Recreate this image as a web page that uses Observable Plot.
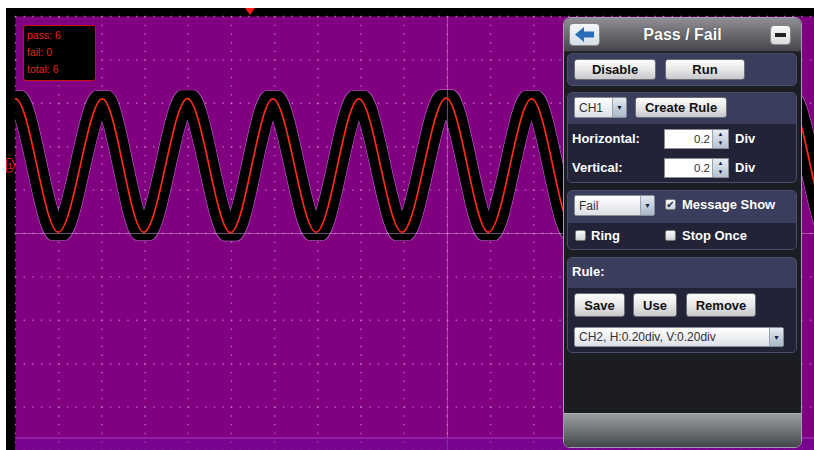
<!DOCTYPE html>
<html><head><meta charset="utf-8">
<script src="https://cdn.jsdelivr.net/npm/d3@7"></script>
<script src="https://cdn.jsdelivr.net/npm/@observablehq/plot@0.6"></script>
<style>
body{margin:0;background:#fff;}
#wrap{position:relative;width:814px;height:450px;overflow:hidden;background:#fff;font-family:"Liberation Sans",Arial,sans-serif;}
#frame{position:absolute;left:6px;top:8px;width:808px;height:442px;background:#000;}
#chart{position:absolute;left:0;top:0;}
.a{position:absolute;box-sizing:border-box;}
#info{left:23px;top:25px;width:73px;height:56px;background:#000;border:1px solid #c81414;border-radius:3px;color:#e82020;font-size:10.5px;line-height:17px;padding:1px 0 0 3px;}
#panel{left:563px;top:17px;width:239px;height:431px;background:#1c1d22;border:1px solid #a898b8;border-radius:7px;overflow:hidden;}
#head{left:0;top:0;width:237px;height:34px;background:linear-gradient(#909096,#6c6c72 45%,#46464c);border-bottom:1px solid #2a2a30;color:#fff;font-weight:bold;font-size:16px;line-height:34px;text-align:center;text-shadow:0 0 1px #222;}
.grp{background:#222336;border:1px solid #4a4d6c;border-radius:5px;overflow:hidden;}
.strip{position:absolute;left:0;top:0;width:100%;background:#3a3d5c;}
.btn{background:linear-gradient(#fdfdfd,#e8e8e8 50%,#c8c8cc);border:1px solid #6c6c76;border-radius:3px;font-weight:bold;font-size:13px;color:#111;display:flex;align-items:center;justify-content:center;}
.dd{background:linear-gradient(#ffffff,#dde0e6);border:1px solid #8a8a94;border-radius:2px;font-size:12px;color:#333;padding-left:4px;display:flex;align-items:center;}
.arr{position:absolute;right:0;top:0;bottom:0;width:13px;background:linear-gradient(#e4eaf2,#a9b8c8);border-left:1px solid #9aa4b0;font-size:7px;color:#1a2030;display:flex;align-items:center;justify-content:center;}
.spin{background:#fff;border:1px solid #8a8a94;font-size:11.5px;color:#333;text-align:right;padding-right:18px;line-height:18px;}
.sarr{position:absolute;right:0;top:0;bottom:0;width:15px;background:linear-gradient(#e6ecf4,#b4c2d2);border-left:1px solid #9aa4b0;font-size:6px;line-height:9px;color:#1a2030;text-align:center;padding:0;}
.lbl{color:#fff;font-weight:bold;font-size:13px;line-height:20px;height:20px;white-space:nowrap;}
.cb{width:11px;height:11px;background:linear-gradient(#fafafa,#cfd2d8);border:1px solid #777;border-radius:2px;font-size:10px;line-height:9px;color:#1a2a50;text-align:center;font-family:"DejaVu Sans",sans-serif;font-weight:bold;}
</style></head>
<body>
<div id="wrap">
  <div id="frame"></div>
  <div id="chart"></div>
  <div class="a" style="left:15px;top:437px;width:799px;height:2px;background:#9a28b0;opacity:0.8;"></div>
  <div class="a" style="left:15px;top:439px;width:799px;height:11px;background:#70089a;opacity:0.55;"></div>
  <svg class="a" style="left:245px;top:8px" width="10" height="8"><polygon points="0,0 10,0 5,7" fill="#ff1a1a"/></svg>
  <svg class="a" style="left:6px;top:158px" width="10" height="15"><polygon points="0.5,0.5 5.5,0.5 9,7.5 5.5,14 0.5,14" fill="#000" stroke="#e82020" stroke-width="1"/><text x="4" y="11" font-size="9" fill="#e82020" text-anchor="middle" font-family="Liberation Sans">1</text></svg>
  <div class="a" id="info"><div>pass: 6</div><div>fail: 0</div><div>total: 6</div></div>
  <div class="a" id="panel">
    <div class="a" id="head">Pass / Fail</div>
    <div class="a" style="left:5px;top:5px;width:31px;height:23px;background:linear-gradient(#f4f7fa,#d6dee8);border:1px solid #888;border-radius:4px;">
      <svg width="29" height="21"><polygon points="5,10.5 14,3 14,7.5 24,7.5 24,13.5 14,13.5 14,18" fill="#2a6cb8"/></svg>
    </div>
    <div class="a" style="left:206px;top:7px;width:21px;height:20px;background:linear-gradient(#fafafa,#dcdcdc);border:1px solid #888;border-radius:4px;">
      <div class="a" style="left:4px;top:7px;width:11px;height:4px;background:#222;"></div>
    </div>

    <div class="a grp" style="left:3px;top:35px;width:230px;height:33px;background:#3a3d5c;"></div>
    <div class="a btn" style="left:10px;top:41px;width:82px;height:21px;">Disable</div>
    <div class="a btn" style="left:101px;top:41px;width:80px;height:21px;">Run</div>

    <div class="a grp" style="left:3px;top:74px;width:230px;height:91px;"><div class="strip" style="height:31px"></div></div>
    <div class="a dd" style="left:10px;top:79px;width:53px;height:21px;">CH1<div class="arr">▼</div></div>
    <div class="a btn" style="left:71px;top:79px;width:92px;height:21px;">Create Rule</div>
    <div class="a lbl" style="left:8px;top:111px;">Horizontal:</div>
    <div class="a spin" style="left:100px;top:111px;width:65px;height:20px;">0.2<div class="sarr">▲<br>▼</div></div>
    <div class="a lbl" style="left:171px;top:111px;">Div</div>
    <div class="a lbl" style="left:8px;top:140px;">Vertical:</div>
    <div class="a spin" style="left:100px;top:140px;width:65px;height:20px;">0.2<div class="sarr">▲<br>▼</div></div>
    <div class="a lbl" style="left:171px;top:140px;">Div</div>

    <div class="a grp" style="left:3px;top:172px;width:230px;height:60px;"><div class="strip" style="height:32px"></div></div>
    <div class="a dd" style="left:10px;top:177px;width:81px;height:21px;">Fail<div class="arr">▼</div></div>
    <div class="a cb" style="left:101px;top:181px;">✔</div>
    <div class="a lbl" style="left:118px;top:177px;">Message Show</div>
    <div class="a cb" style="left:11px;top:212px;"></div>
    <div class="a lbl" style="left:27px;top:208px;">Ring</div>
    <div class="a cb" style="left:101px;top:212px;"></div>
    <div class="a lbl" style="left:118px;top:208px;">Stop Once</div>

    <div class="a grp" style="left:3px;top:239px;width:230px;height:96px;"><div class="strip" style="height:30px"></div></div>
    <div class="a lbl" style="left:8px;top:244px;">Rule:</div>
    <div class="a btn" style="left:10px;top:275px;width:51px;height:24px;">Save</div>
    <div class="a btn" style="left:69px;top:275px;width:44px;height:24px;">Use</div>
    <div class="a btn" style="left:122px;top:275px;width:70px;height:24px;">Remove</div>
    <div class="a dd" style="left:10px;top:309px;width:210px;height:20px;">CH2, H:0.20div, V:0.20div<div class="arr">▼</div></div>

    <div class="a" style="left:0;top:395px;width:237px;height:34px;background:linear-gradient(#9a9da2,#6c6f74 55%,#42454a);border-top:1px solid #b0b2b6;"></div>
  </div>
</div>
<script>
// grid divisions (x in horizontal divisions, y in vertical divisions from screen centre)
const gridX = [0,1,2,3,4,5,6,7,8,9,10,11,12,13,14,15,16,17,18];
const gridY = [-5,-4,-3,-2,-1,0,1,2,3,4,5];
const centerX = [10];
const centerY = [0];
// waveform extrema (division, level in div)
const extremaX = [-1.0, 0.0, 0.99, 2.01, 2.97, 3.98, 4.98, 5.96, 6.96, 7.95, 8.95, 9.97, 10.95, 11.95, 12.93, 13.93, 14.92, 15.92, 16.91, 17.91, 18.9, 19.9];
const extremaV = [0.02, 3.1, 0.03, 3.1, 0.03, 3.11, 0.02, 3.1, 0.03, 3.1, 0.03, 3.12, 0.03, 3.1, 0.03, 3.1, 0.03, 3.1, 0.03, 3.1, 0.03, 3.1];
// pass/fail mask tolerance (±0.2 div), drawn as offset stroke copies in pixels
const maskDX = [-6, -3, 0, 3, 6];
const maskDY = [-5, 0, 5];

const wave = extremaX.map((x, i) => ({x, v: extremaV[i]}));
const offs = maskDX.flatMap(dx => maskDY.map(dy => ({dx, dy})));

const marks = [
  Plot.frame({fill: "#800080"}),
  Plot.ruleX(gridX, {stroke: "#d08ad0", strokeWidth: 1.4, strokeDasharray: "1.4 7.28", strokeOpacity: 0.75}),
  Plot.ruleY(gridY, {stroke: "#d08ad0", strokeWidth: 1.4, strokeDasharray: "1.4 7.24", strokeOpacity: 0.75}),
  ...offs.map(o => Plot.line(wave, {x: "x", y: "v", curve: "monotone-x", stroke: "#c060c8", strokeWidth: 7.6, dx: o.dx, dy: o.dy, clip: true})),
  ...offs.map(o => Plot.line(wave, {x: "x", y: "v", curve: "monotone-x", stroke: "#000", strokeWidth: 6.4, dx: o.dx, dy: o.dy, clip: true})),
  Plot.ruleX(centerX, {stroke: "#d090d8", strokeWidth: 1, strokeOpacity: 0.55}),
  Plot.ruleY(centerY, {stroke: "#d090d8", strokeWidth: 1, strokeOpacity: 0.55}),
  Plot.line(wave, {x: "x", y: "v", curve: "monotone-x", stroke: "#ff2a1a", strokeWidth: 1.7, clip: true})
];

const chart = Plot.plot({
  width: 814, height: 450,
  marginLeft: 15, marginTop: 16, marginRight: 0, marginBottom: 0,
  x: {domain: [0, 18.5], axis: null},
  y: {domain: [-5, 5], axis: null},
  style: {background: "transparent"},
  marks
});
document.getElementById("chart").appendChild(chart);
</script>
</body></html>
